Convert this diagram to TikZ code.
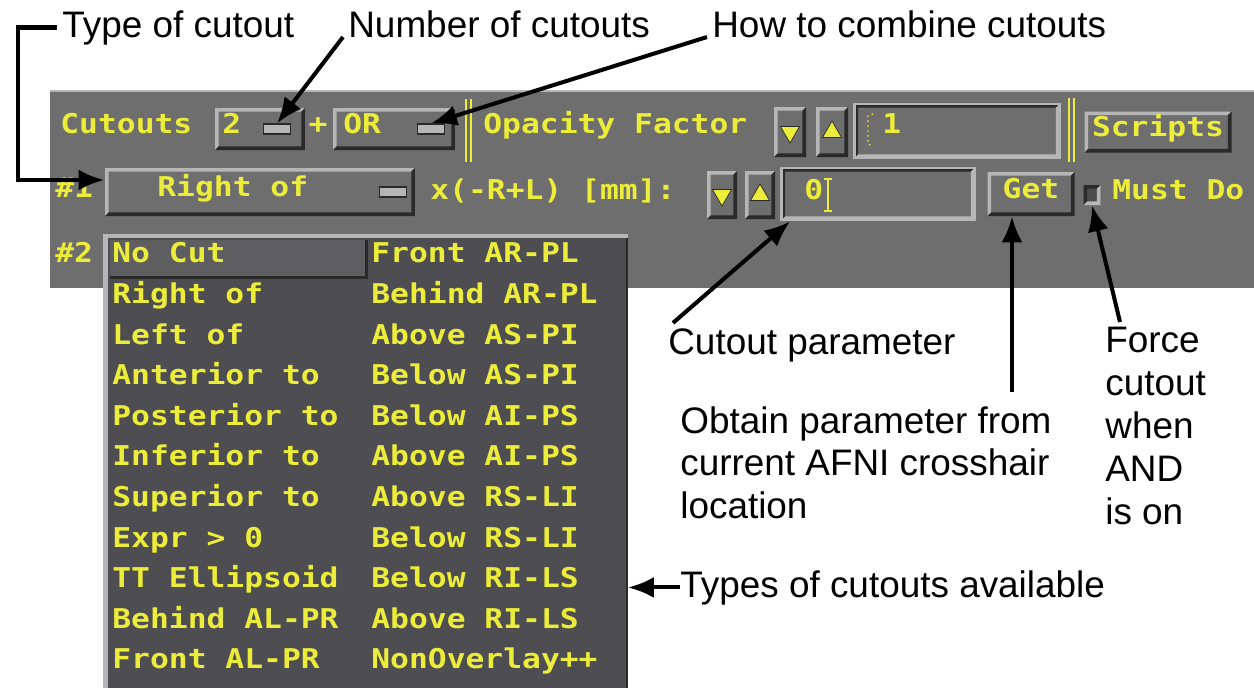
\documentclass[tikz,border=0pt]{standalone}
\usepackage{fontspec}
\setmainfont{Liberation Sans}
\newfontfamily\guifont[FakeStretch=1.15]{DejaVu Sans Mono}
\usepackage{tikz}
\usetikzlibrary{shapes, arrows, arrows.meta, positioning, calc}

\definecolor{panelgray}{RGB}{110,110,110}
\definecolor{menugray}{RGB}{78,78,82}
\definecolor{itemgray}{RGB}{94,94,96}
\definecolor{guiyellow}{RGB}{236,236,58}
\definecolor{bevellight}{RGB}{182,182,182}
\definecolor{beveldark}{RGB}{42,42,42}

\tikzset{
	gui/.style={font={\guifont\bfseries\fontsize{15.5pt}{17pt}\selectfont}, text=guiyellow, inner sep=0pt, text height=0.73em, text depth=0.18em},
	note/.style={font={\fontsize{21pt}{24.4pt}\selectfont}, inner sep=0pt, align=left},
	pointer/.style={line width=2.3pt, -{Latex[length=5.2mm,width=4.2mm]}},
	raised/.style={fill=panelgray, inner sep=0pt, path picture={
		\fill[bevellight] (path picture bounding box.south west) -- (path picture bounding box.north west) -- (path picture bounding box.north east) -- ([shift={(-2pt,-2pt)}]path picture bounding box.north east) -- ([shift={(2pt,-2pt)}]path picture bounding box.north west) -- ([shift={(2pt,2pt)}]path picture bounding box.south west) -- cycle;
		\fill[beveldark] (path picture bounding box.south west) -- (path picture bounding box.south east) -- (path picture bounding box.north east) -- ([shift={(-2pt,-2pt)}]path picture bounding box.north east) -- ([shift={(-2pt,2pt)}]path picture bounding box.south east) -- ([shift={(2pt,2pt)}]path picture bounding box.south west) -- cycle;
	}},
	sunken/.style={fill=panelgray, inner sep=0pt, path picture={
		\fill[beveldark] (path picture bounding box.south west) -- (path picture bounding box.north west) -- (path picture bounding box.north east) -- ([shift={(-2pt,-2pt)}]path picture bounding box.north east) -- ([shift={(2pt,-2pt)}]path picture bounding box.north west) -- ([shift={(2pt,2pt)}]path picture bounding box.south west) -- cycle;
		\fill[bevellight] (path picture bounding box.south west) -- (path picture bounding box.south east) -- (path picture bounding box.north east) -- ([shift={(-2pt,-2pt)}]path picture bounding box.north east) -- ([shift={(-2pt,2pt)}]path picture bounding box.south east) -- ([shift={(2pt,2pt)}]path picture bounding box.south west) -- cycle;
	}},
	field/.style={sunken, draw=bevellight, line width=1.6pt},
	flag/.style={fill=bevellight, draw=beveldark, line width=0.6pt, minimum width=5.4mm, minimum height=2mm, inner sep=0pt},
	tri/.style={regular polygon, regular polygon sides=3, fill=guiyellow, draw=beveldark, line width=0.4pt, minimum size=4.4mm, inner sep=0pt},
}

\begin{document}
\begin{tikzpicture}[x=0.02cm, y=-0.02cm]
	\path[use as bounding box, fill=white] (0,0) rectangle (1254,687);

	% labels above the panel
	\node[note, anchor=base west] (typelbl) at (62,37) {Type of cutout};
	\node[note, anchor=base west] (numlbl) at (348,37) {Number of cutouts};
	\node[note, anchor=base west] (howlbl) at (712,37) {How to combine cutouts};

	% control panel
	\node[fill=panelgray, minimum width=240.8mm, minimum height=39.4mm, inner sep=0pt] (panel) at (652,189.5) {};
	\draw[bevellight, line width=1pt] (panel.north west) -- (panel.north east);

	% first row
	\node[gui, anchor=west] (cutlbl) at (60,129) {Cutouts};
	\node[raised, minimum width=18mm, minimum height=8.4mm] (cntbtn) at (260,129) {};
	\node[gui, anchor=west] (cntval) at (222,129) {2};
	\node[flag] (cntflag) at (277,129) {};
	\node[gui] (plus) at (318,129) {+};
	\node[raised, minimum width=24.4mm, minimum height=8.4mm] (opbtn) at (394,129) {};
	\node[gui, anchor=west] (opval) at (343,129) {OR};
	\node[flag] (opflag) at (431,129) {};
	\draw[guiyellow, line width=1pt] (466,99) -- (466,162) (471,99) -- (471,162);
	\node[gui, anchor=west] (opaclbl) at (483,129) {Opacity Factor};
	\node[raised, minimum width=6.4mm, minimum height=10mm] (opdown) at (790,132) {};
	\node[tri, rotate=180] at (opdown) {};
	\node[raised, minimum width=6.4mm, minimum height=10mm] (opup) at (832,132) {};
	\node[tri] at (opup) {};
	\node[field, minimum width=41mm, minimum height=10.8mm] (opfield) at (957,131) {};
	\node[gui, anchor=west] (opacval) at (882,129) {1};
	\draw[guiyellow, dotted, line width=0.8pt] (873,114) -- (868,116) -- (868,144) -- (873,146);
	\draw[guiyellow, line width=1pt] (1069,98) -- (1069,162) (1074,98) -- (1074,162);
	\node[raised, minimum width=29.4mm, minimum height=8.2mm] (scriptbtn) at (1158,132) {};
	\node[gui] at (scriptbtn) {Scripts};

	% second row
	\node[gui, anchor=west] (hashone) at (55,193) {\#1};
	\node[raised, minimum width=62mm, minimum height=9.6mm] (typebtn) at (260,192) {};
	\node[gui, anchor=west] (typeval) at (157,192) {Right of};
	\node[flag] (typeflag) at (393,192) {};
	\node[gui, anchor=west] (paramlbl) at (430,195) {x(-R+L) [mm]:};
	\node[raised, minimum width=6mm, minimum height=9.6mm] (pdown) at (722,195) {};
	\node[tri, rotate=180] at (pdown) {};
	\node[raised, minimum width=6mm, minimum height=9.6mm] (pup) at (760,195) {};
	\node[tri] at (pup) {};
	\node[field, minimum width=38.6mm, minimum height=10.4mm] (pfield) at (878,194) {};
	\node[gui, anchor=west] (pval) at (804,195) {0};
	\draw[guiyellow, line width=0.9pt] (828,179) -- (828,211) (824,179) -- (832,179) (824,211) -- (832,211);
	\node[raised, minimum width=17.4mm, minimum height=8.8mm] (getbtn) at (1031,194) {};
	\node[gui] at (getbtn) {Get};
	\node[sunken, fill=gray!60!black, minimum width=3.4mm, minimum height=4mm] (mustbox) at (1092,195) {};
	\node[gui, anchor=west] (mustlbl) at (1112,195) {Must Do};

	% third row and popup menu
	\node[gui, anchor=west] (hashtwo) at (55,258) {\#2};
	\node[fill=menugray, draw=beveldark, line width=1pt, minimum width=104.6mm, minimum height=91mm, inner sep=0pt] (menu) at (365.5,462) {};
	\draw[bevellight, line width=2.5pt] ([xshift=1.25pt]menu.south west) |- ([yshift=-1.25pt]menu.north east);
	\node[fill=itemgray, minimum width=51.2mm, minimum height=7.4mm, inner sep=0pt] (nocutbox) at (238,258.5) {};
	\draw[beveldark, line width=2pt] (nocutbox.south west) -- (nocutbox.south east) -- (nocutbox.north east);
	\foreach \i/\colA/\colB in {0/No Cut/Front AR-PL, 1/Right of/Behind AR-PL, 2/Left of/Above AS-PI,
		3/Anterior to/Below AS-PI, 4/Posterior to/Below AI-PS, 5/Inferior to/Above AI-PS,
		6/Superior to/Above RS-LI, 7/Expr > 0/Below RS-LI, 8/TT Ellipsoid/Below RI-LS,
		9/Behind AL-PR/Above RI-LS, 10/Front AL-PR/NonOverlay++} {
		\node[gui, anchor=west] (itemL\i) at (112,258+40.6*\i) {\colA};
		\node[gui, anchor=west] (itemR\i) at (371,258+40.6*\i) {\colB};
	}

	% labels below the panel
	\node[note, anchor=base west] (parlbl) at (668,354) {Cutout parameter};
	\node[note, anchor=north west] (getlbl) at (680,406) {Obtain parameter from\\current AFNI crosshair\\location};
	\node[note, anchor=north west] (forcelbl) at (1105,327) {Force\\cutout\\when\\AND\\is on};
	\node[note, anchor=base west] (typeslbl) at (680,597) {Types of cutouts available};

	% pointers
	\draw[pointer, line width=2.8pt] ([xshift=-1mm]typelbl.west) -- ++(-39,0) |- ([yshift=2.4mm]typebtn.west);
	\draw[pointer] ([xshift=-1mm]numlbl.base west) -- (cntflag.north);
	\draw[pointer] ([xshift=-1mm]howlbl.base west) -- (opflag.north);
	\draw[pointer] ([xshift=1mm,yshift=1mm]parlbl.north west) -- ([xshift=2mm]pfield.south west);
	\coordinate (gettail) at (1012,392);
	\draw[pointer] (gettail) -- (gettail |- getbtn.south);
	\draw[pointer] ([xshift=3mm,yshift=1mm]forcelbl.north west) -- (mustbox.south);
	\draw[pointer] (typeslbl.west) -- (typeslbl.west -| menu.east);
\end{tikzpicture}
\end{document}
